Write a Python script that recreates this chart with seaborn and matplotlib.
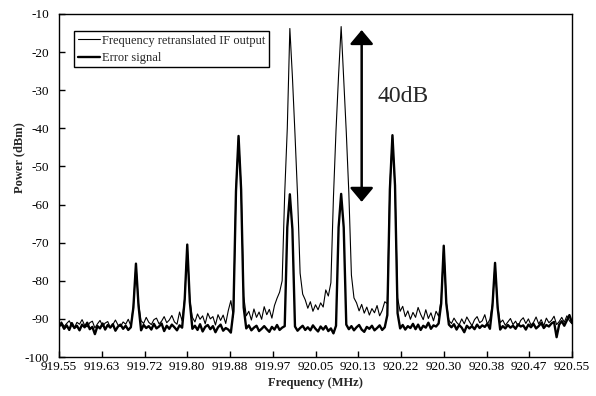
import numpy as np
import pandas as pd
import matplotlib
matplotlib.use("Agg")
import matplotlib.pyplot as plt
import seaborn as sns

# Spectrum analyser sweep: 919.55 - 920.55 MHz, 201 points (5 kHz step)
freq_start = 919.55
freq_stop = 920.55

# Frequency retranslated IF output (thin trace), dBm
if_output = [
    -91.5, -90.8, -92.0, -91.2, -90.5, -91.8, -92.3, -90.9, -91.4, -90.2,
    -91.7, -92.1, -91.0, -90.6, -92.4, -91.3, -90.4, -91.9, -91.1, -90.7,
    -92.2, -91.5, -90.3, -91.6, -92.0, -90.8, -91.4, -90.1, -91.8, -86.5,
    -75.8, -86.0, -90.5, -91.2, -89.6, -90.9, -91.5, -90.2, -89.8, -91.3,
    -90.6, -89.4, -91.0, -90.3, -89.1, -90.8, -91.4, -88.2, -90.5, -84.5,
    -70.8, -85.0, -89.6, -90.8, -88.7, -90.1, -89.2, -91.3, -88.5, -90.0,
    -89.4, -91.6, -88.9, -90.4, -89.0, -91.2, -87.8, -85.2, -89.5, -56.0,
    -42.3, -55.5, -84.0, -89.2, -88.0, -90.3, -87.4, -89.6, -88.2, -90.1,
    -86.8, -88.9, -87.5, -89.8, -86.5, -84.6, -83.0, -80.0, -57.0, -40.0,
    -13.8, -26.5, -41.5, -57.5, -78.0, -83.5, -85.0, -87.2, -85.5, -88.0,
    -86.3, -87.6, -85.8, -86.9, -82.4, -84.0, -80.5, -58.0, -40.5, -26.0,
    -13.3, -27.0, -41.0, -57.0, -78.5, -84.5, -85.8, -87.9, -86.2, -88.5,
    -86.9, -89.0, -87.3, -88.4, -86.5, -89.2, -87.8, -85.5, -86.0, -55.0,
    -42.0, -55.5, -84.5, -88.0, -86.7, -89.4, -87.9, -90.1, -88.3, -89.6,
    -87.0, -88.8, -90.2, -87.6, -89.9, -88.4, -90.5, -88.0, -89.3, -84.8,
    -71.0, -85.5, -90.4, -91.2, -89.8, -90.9, -91.6, -90.0, -91.3, -89.5,
    -90.7, -91.8, -90.2, -89.4, -91.0, -90.5, -88.9, -91.4, -90.1, -86.0,
    -75.5, -86.5, -91.0, -90.3, -91.7, -90.8, -89.9, -91.5, -90.6, -91.9,
    -90.4, -89.7, -91.2, -90.0, -91.6, -90.9, -89.5, -91.3, -90.2, -91.8,
    -89.8, -91.0, -90.4, -89.3, -91.5, -90.7, -89.6, -90.9, -89.2, -90.5,
    -91.3,
]

# Error signal (thick trace), dBm
error_signal = [
    -92.0, -91.3, -92.6, -91.7, -92.9, -91.1, -92.4, -91.8, -93.0, -91.5,
    -92.2, -91.0, -92.7, -92.1, -94.0, -91.9, -92.5, -91.2, -92.8, -91.6,
    -92.3, -91.4, -93.1, -92.0, -91.5, -92.6, -91.8, -92.9, -92.2, -87.0,
    -75.5, -86.5, -93.0, -91.6, -92.4, -91.9, -92.8, -91.3, -92.5, -92.0,
    -91.2, -93.2, -91.8, -92.6, -91.5, -92.2, -93.0, -91.7, -92.3, -85.0,
    -70.5, -85.5, -92.6, -91.8, -92.9, -91.4, -93.3, -92.1, -91.6, -92.7,
    -91.9, -93.5, -92.2, -91.5, -93.1, -92.4, -92.8, -93.6, -88.0, -56.5,
    -42.0, -56.0, -87.0, -92.5, -91.7, -93.0, -92.3, -91.8, -93.2, -92.6,
    -91.9, -92.7, -93.4, -92.1, -92.8, -91.6, -92.9, -92.3, -91.9, -66.0,
    -57.3, -66.5, -92.0, -93.1, -92.4, -91.8, -92.9, -92.2, -93.0, -91.7,
    -92.6, -93.3, -92.0, -92.8, -91.9, -93.2, -92.5, -93.8, -91.8, -66.0,
    -57.2, -66.0, -91.5, -92.7, -91.9, -93.0, -92.2, -91.6, -92.8, -93.4,
    -92.1, -92.6, -91.8, -93.0, -92.4, -91.7, -92.9, -92.2, -89.0, -56.0,
    -41.8, -55.0, -88.5, -92.5, -91.6, -92.8, -91.9, -92.4, -91.3, -92.7,
    -91.5, -92.9, -91.8, -92.3, -91.0, -92.6, -91.7, -92.0, -91.2, -86.0,
    -70.8, -86.0, -91.5, -92.2, -91.4, -92.8, -91.6, -92.3, -93.5, -91.8,
    -92.5, -91.9, -92.7, -91.5, -92.4, -91.7, -92.1, -91.3, -92.6, -86.5,
    -75.3, -87.0, -92.8, -91.9, -92.5, -91.6, -92.3, -91.8, -92.6, -91.4,
    -92.0, -91.7, -92.8, -91.5, -92.2, -91.3, -92.5, -91.9, -91.1, -92.4,
    -91.6, -92.0, -91.2, -90.8, -94.8, -91.5, -90.6, -91.8, -90.4, -89.0,
    -91.0,
]

x_tick_labels = ["919.55", "919.63", "919.72", "919.80", "919.88", "919.97", "920.05",
                 "920.13", "920.22", "920.30", "920.38", "920.47", "920.55"]
y_ticks = [-100, -90, -80, -70, -60, -50, -40, -30, -20, -10]

freq = np.linspace(freq_start, freq_stop, len(if_output))
df = pd.DataFrame({"Frequency": freq, "IF": if_output, "Error": error_signal})

sns.set_theme(style="ticks")
plt.rcParams["font.family"] = ["Liberation Serif", "DejaVu Serif"]
plt.rcParams["axes.unicode_minus"] = False

fig = plt.figure(figsize=(5.96, 3.96), dpi=100)
ax = fig.add_axes([59 / 596, 1 - 357 / 396, 513 / 596, 343 / 396])

sns.lineplot(data=df, x="Frequency", y="IF", ax=ax, color="black", lw=0.8,
             estimator=None, sort=False, label="Frequency retranslated IF output")
sns.lineplot(data=df, x="Frequency", y="Error", ax=ax, color="black", lw=1.7,
             estimator=None, sort=False, label="Error signal")

# 40 dB marker between the carrier and the error peaks
ax.annotate("", xy=(920.14, -59.3), xytext=(920.14, -14.2),
            arrowprops=dict(arrowstyle="<|-|>,head_length=0.43,head_width=0.36",
                            color="black", lw=1.8, mutation_scale=20,
                            shrinkA=0, shrinkB=0))
ax.text(920.171, -31.7, "40dB", fontsize=17, ha="left", va="center")

ax.set_xlim(freq_start, freq_stop)
ax.set_ylim(-100, -10)
ax.set_xticks(np.linspace(freq_start, freq_stop, len(x_tick_labels)))
ax.set_xticklabels(x_tick_labels)
ax.set_yticks(y_ticks)
ax.set_yticklabels([str(v) for v in y_ticks])
ax.tick_params(direction="in", length=4, width=1, color="black",
               labelsize=9.5, labelcolor="black")
ax.tick_params(axis="y", pad=7)
ax.tick_params(axis="x", pad=3)

ax.set_xlabel("Frequency (MHz)", fontsize=9, fontweight="bold", labelpad=3)
ax.set_ylabel("Power (dBm)", fontsize=9, fontweight="bold", labelpad=1)
ax.yaxis.set_label_coords(-0.066, 0.58)

for sp in ax.spines.values():
    sp.set_color("black")
    sp.set_linewidth(1.0)

leg = ax.legend(loc="upper left", bbox_to_anchor=(0.03, 0.95), borderaxespad=0,
                frameon=True, fancybox=False, edgecolor="black", framealpha=1,
                fontsize=9, handlelength=1.75, handletextpad=0.15,
                borderpad=0.28, labelspacing=0.42)
leg.get_frame().set_linewidth(1.0)

fig.savefig("out.png", dpi=100)
